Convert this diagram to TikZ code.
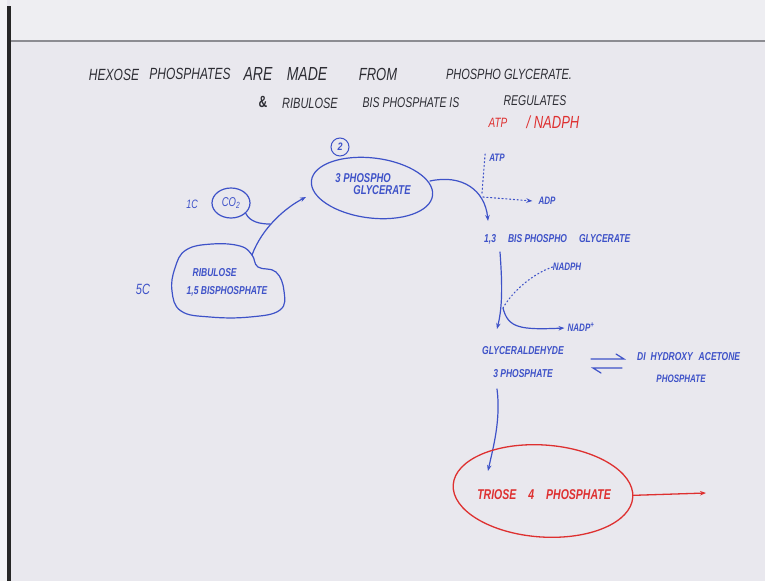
\documentclass[tikz,border=0pt]{standalone}
\usepackage{fontspec}
\setmainfont{Liberation Sans}
\usetikzlibrary{arrows.meta,shapes.geometric,calc}
\definecolor{board}{RGB}{233,232,238}
\definecolor{strip}{RGB}{238,238,242}
\definecolor{margin}{RGB}{243,243,245}
\definecolor{rule}{RGB}{140,140,146}
\definecolor{chalk}{RGB}{45,45,52}
\definecolor{inkblue}{RGB}{62,82,200}
\definecolor{inkred}{RGB}{222,48,48}
% hand lettering: tall, narrow capitals
\newcommand\hw[2][1.35]{\scalebox{1}[#1]{#2}}
\tikzset{
  title/.style={text=chalk, font=\fontsize{12}{13}\selectfont\itshape, inner sep=0},
  redtxt/.style={text=inkred, font=\fontsize{11}{12}\selectfont\itshape, inner sep=0},
  lab/.style={text=inkblue, font=\fontsize{9}{10}\selectfont\itshape, inner sep=0},
  ink/.style={draw=inkblue, line width=1.2pt, line cap=round},
  redink/.style={draw=inkred, line width=1.3pt, line cap=round},
  tipb/.style={-{Stealth[length=6pt,width=4.5pt]}},
  dots/.style={dash pattern=on 1.2pt off 2.6pt, line width=1.1pt},
}
\begin{document}
\begin{tikzpicture}[x=1pt,y=-1pt]
% board, header strip and frame
\fill[board] (0,0) rectangle (765,581);
\useasboundingbox (0,0) rectangle (765,581);
\fill[strip] (10,0) rectangle (765,40);
\fill[margin] (0,0) rectangle (7,581);
\fill[black!85] (7,6) rectangle (10.5,581);
\draw[rule, line width=1.4pt] (10.5,41) -- (765,41);

% heading
\node[title] (w1) at (114,75) {\hw{HEXOSE}};
\node[title] (w2) at (190,74) {\hw{PHOSPHATES}};
\node[title, font=\fontsize{14}{15}\selectfont\itshape] (w3) at (258,74) {\hw{ARE}};
\node[title, font=\fontsize{14}{15}\selectfont\itshape] (w4) at (307,74) {\hw{MADE}};
\node[title, font=\fontsize{13}{14}\selectfont\itshape] (w5) at (378,74) {\hw{FROM}};
\node[title, font=\fontsize{11}{12}\selectfont\itshape] (w6) at (509,74) {\hw{PHOSPHO GLYCERATE.}};
\node[title, font=\fontsize{12}{13}\selectfont\bfseries] (w7) at (263,102) {\hw{\&}};
\node[title, font=\fontsize{11}{12}\selectfont\itshape] (w8) at (310,103) {\hw{RIBULOSE}};
\node[title, font=\fontsize{10.5}{12}\selectfont\itshape] (w9) at (411,103) {\hw{BIS PHOSPHATE IS}};
\node[title, font=\fontsize{10.5}{12}\selectfont\itshape] (w10) at (535,101) {\hw{REGULATES}};
\node[redtxt, font=\fontsize{10}{11}\selectfont\itshape] (ratp) at (498,123) {\hw{ATP}};
\node[redtxt, font=\fontsize{13}{14}\selectfont\itshape] (rnadph) at (553,122) {\hw{/ NADPH}};

% carbon fixation
\node[lab, font=\fontsize{9}{10}\selectfont\bfseries\itshape] (two) at (340,147) {\hw[1.2]{2}};
\draw[ink, line width=1pt] (two) circle (9);
\node[ellipse, draw=inkblue, line width=1.2pt, minimum width=122pt, minimum height=60pt,
      rotate=-7, inner sep=0] (pga) at (372,188) {};
\node[lab, font=\fontsize{9.5}{10}\selectfont\bfseries\itshape, align=left] (pgat) at (373,186)
      {\hw{\begin{tabular}{@{}l@{}}3 PHOSPHO\\[-1pt]\hspace{18pt}GLYCERATE\end{tabular}}};

\node[lab] (onec) at (192,204) {\hw{1C}};
\node[ellipse, draw=inkblue, line width=1.2pt, minimum width=38pt, minimum height=30pt,
      inner sep=0, lab, font=\fontsize{9.5}{10}\selectfont\itshape] (co2) at (231,203) {\hw{CO\textsubscript{2}}};
\node[lab, font=\fontsize{11}{12}\selectfont\itshape] (fivec) at (143,289) {\hw{5C}};
\node[lab, font=\fontsize{8.5}{10}\selectfont\bfseries\itshape] (rib) at (227,283)
      {\hw{\begin{tabular}{@{}l@{}}\hspace{6pt}RIBULOSE\\[3pt]1,5 BISPHOSPHATE\end{tabular}}};
\draw[ink] plot[smooth cycle, tension=0.7] coordinates
  {(175,268) (186,250) (212,244) (240,246) (252,255) (258,267) (276,272)
   (284,291) (280,310) (250,317) (210,317) (181,311) (172,291)};

\coordinate (ribtop) at (252,255);
\coordinate (pgain) at (306,197);
\coordinate (join) at (270,224);
\draw[ink, tipb] (ribtop) .. controls (262,228) and (285,208) .. (pgain);
\draw[ink] (co2.-35) .. controls (250,222) and (260,224) .. (join);

% reduction phase
\coordinate (pgaout) at (430,181);
\coordinate (bpgin) at (488,221);
\draw[ink, tipb] (pgaout) .. controls (462,174) and (485,190) .. (bpgin);

\node[lab, font=\fontsize{8}{9}\selectfont\bfseries\itshape] (atp) at (497,158) {\hw{ATP}};
\node[lab, font=\fontsize{8}{9}\selectfont\bfseries\itshape] (adp) at (547,201) {\hw{ADP}};
\coordinate (atpin) at (482,193);
\coordinate (adpout) at (483,197);
\draw[ink, dots] ($(atp.west)+(-4,-4)$) -- (atpin);
\draw[ink, dots, tipb] (adpout) -- ($(adp.west)+(-6,0)$);

\node[lab, font=\fontsize{8.5}{9}\selectfont\bfseries\itshape, anchor=west] (bpg) at (484,239)
      {\hw{1,3\hspace{12pt}BIS PHOSPHO\hspace{12pt}GLYCERATE}};

\coordinate (bpgout) at (500,252);
\coordinate (g3pin) at (497,329);
\coordinate (split) at (503,308);
\draw[ink, tipb] (bpgout) .. controls (502,280) and (503,305) .. (g3pin);

\node[lab, font=\fontsize{8}{9}\selectfont\bfseries\itshape] (nadph) at (567,267) {\hw{NADPH}};
\node[lab, font=\fontsize{8}{9}\selectfont\bfseries\itshape] (nadp) at (581,327) {\hw{NADP\textsuperscript{+}}};
\draw[ink, dots] (nadph.west) .. controls (532,274) and (512,292) .. (split);
\draw[ink, tipb] (split) .. controls (508,328) and (520,330) .. ($(nadp.west)+(-3,1)$);

\node[lab, font=\fontsize{8.5}{9}\selectfont\bfseries\itshape] (g3p) at (523,364)
      {\hw{\begin{tabular}{@{}c@{}}GLYCERALDEHYDE\\[8pt]3 PHOSPHATE\end{tabular}}};
\node[lab, font=\fontsize{8.5}{9}\selectfont\bfseries\itshape, anchor=west] (dhap) at (637,357)
      {\hw{DI\hspace{5pt}HYDROXY\hspace{6pt}ACETONE}};
\node[lab, font=\fontsize{8}{9}\selectfont\bfseries\itshape] (dhapb) at (681,379) {\hw{PHOSPHATE}};

% equilibrium harpoons
\coordinate (eqa) at (591,359);
\coordinate (eqb) at (624,359);
\coordinate (eqc) at (622,368);
\coordinate (eqd) at (593,368);
\draw[ink] (eqa) -- (eqb) -- ++(-8,-5);
\draw[ink] (eqc) -- (eqd) -- ++(8,5);

% to triose phosphate
\coordinate (g3pout) at (497,389);
\coordinate (triin) at (488,471);
\draw[ink, tipb] (g3pout) .. controls (501,420) and (493,448) .. (triin);

\node[ellipse, draw=inkred, line width=1.3pt, minimum width=180pt, minimum height=92pt,
      rotate=-4, inner sep=0] (tri) at (543,491) {};
\node[redtxt, font=\fontsize{10.5}{12}\selectfont\bfseries\itshape] (trit) at (544,495)
      {\hw{TRIOSE\hspace{12pt}4\hspace{12pt}PHOSPHATE}};
\coordinate (triout) at (706,493);
\draw[redink, tipb] ($(tri.east)+(0,-2)$) -- (triout);
\end{tikzpicture}
\end{document}
